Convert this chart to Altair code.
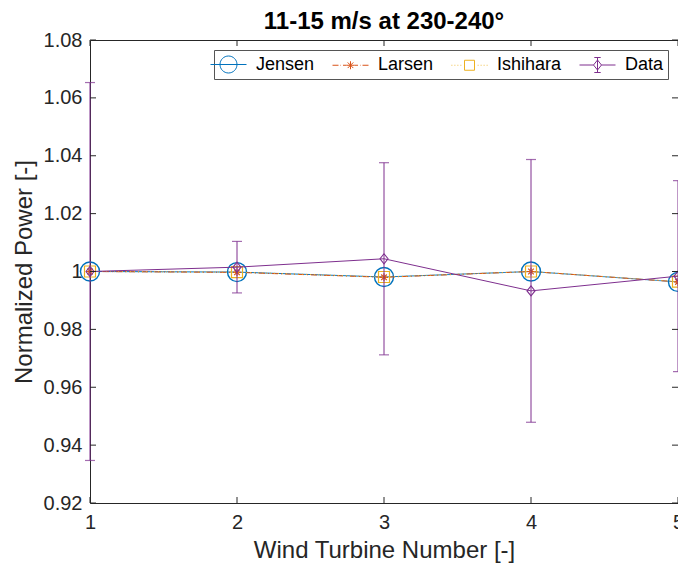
import altair as alt
import pandas as pd

# Normalized power per turbine: three wake models and measured data
turbines = [1, 2, 3, 4, 5]
jensen = [1.0000, 0.9998, 0.9981, 1.0000, 0.9964]
larsen = [1.0000, 0.9997, 0.9980, 1.0000, 0.9964]
ishihara = [1.0000, 0.9998, 0.9981, 1.0000, 0.9965]
data_mean = [1.0000, 1.0015, 1.0044, 0.9933, 0.9984]
data_std = [0.0653, 0.0089, 0.0332, 0.0454, 0.0330]

series_names = ["Jensen", "Larsen", "Ishihara", "Data"]
series_colors = ["#0072BD", "#D95319", "#EDB120", "#7E2F8E"]

x_ticks = [1, 2, 3, 4, 5]
y_ticks = [0.92, 0.94, 0.96, 0.98, 1.00, 1.02, 1.04, 1.06, 1.08]

W, H = 588, 463
FONT = "Liberation Sans"
AXIS_COLOR = "#262626"

# Marker paths (unit coordinates, scaled by sqrt(size)/2)
ASTERISK = "M-1,0H1M0,-1V1M-0.7,-0.7L0.7,0.7M-0.7,0.7L0.7,-0.7"
DIAMOND = "M-0.8,0L0,-1L0.8,0L0,1Z"

# Legend glyphs: line style + marker, drawn as one path each
LEG_JENSEN = "M-1.8,0H1.8M0.85,0A0.85,0.85 0 1,1 -0.85,0A0.85,0.85 0 1,1 0.85,0Z"
LEG_LARSEN = ("M-1.8,0H-1.2M-1.0,0H-0.95M-0.75,0H-0.4"
              "M0.4,0H0.75M0.95,0H1.0M1.2,0H1.8"
              "M-0.4,0H0.4M0,-0.4V0.4M-0.28,-0.28L0.28,0.28M-0.28,0.28L0.28,-0.28")
LEG_ISHIHARA = ("M-1.8,0H-1.72M-1.5,0H-1.42M-1.2,0H-1.12M-0.9,0H-0.82"
                "M0.82,0H0.9M1.12,0H1.2M1.42,0H1.5M1.72,0H1.8"
                "M-0.5,-0.5H0.5V0.5H-0.5Z")
LEG_DATA = ("M-1.8,0H-0.4M0.4,0H1.8M-0.4,0L0,-0.5L0.4,0L0,0.5Z"
            "M0,-0.75V0.75M-0.32,-0.75H0.32M-0.32,0.75H0.32")
legend_shapes = [LEG_JENSEN, LEG_LARSEN, LEG_ISHIHARA, LEG_DATA]

models = pd.DataFrame({
    "turbine": turbines * 3,
    "power": jensen + larsen + ishihara,
    "series": ["Jensen"] * 5 + ["Larsen"] * 5 + ["Ishihara"] * 5,
})
meas = pd.DataFrame({
    "turbine": turbines,
    "power": data_mean,
    "lo": [m - s for m, s in zip(data_mean, data_std)],
    "hi": [m + s for m, s in zip(data_mean, data_std)],
    "series": "Data",
})
legend_df = pd.concat([models, meas[["turbine", "power", "series"]]], ignore_index=True)
xt = pd.DataFrame({"t": x_ticks})
yt = pd.DataFrame({"t": y_ticks})

x_scale = alt.Scale(domain=[1, 5], nice=False, zero=False)
y_scale = alt.Scale(domain=[0.92, 1.08], nice=False, zero=False)

x_enc = alt.X(
    "turbine:Q", scale=x_scale,
    axis=alt.Axis(
        values=x_ticks, format="d", title="Wind Turbine Number [-]",
        labelFlush=False, labelPadding=9, titleY=54, titleBaseline="alphabetic",
    ),
)
y_enc = alt.Y(
    "power:Q", scale=y_scale,
    axis=alt.Axis(
        values=y_ticks, format="~g", title="Normalized Power [-]",
        labelPadding=8, titleX=-66, titleY=H / 2, titleAlign="center",
        titleBaseline="middle", titleAngle=-90,
    ),
)

base_m = alt.Chart(models)


def model_layers(name, color, dash, shape, size, width):
    src = base_m.transform_filter(alt.datum.series == name)
    line = src.mark_line(color=color, strokeWidth=1, strokeDash=dash).encode(x=x_enc, y=y_enc)
    pts = src.mark_point(
        color=color, shape=shape, size=size, filled=False, strokeWidth=width, opacity=1
    ).encode(x="turbine:Q", y="power:Q")
    return [line, pts]


layers = []
layers += model_layers("Jensen", series_colors[0], [1, 0], "circle", 361, 1.4)
layers += model_layers("Larsen", series_colors[1], [6, 3, 1, 3], ASTERISK, 64, 1.2)
layers += model_layers("Ishihara", series_colors[2], [1, 3], "square", 121, 1.2)

base_d = alt.Chart(meas)
purple = series_colors[3]
layers.append(base_d.mark_rule(color=purple, strokeWidth=1).encode(
    x="turbine:Q", y="lo:Q", y2="hi:Q"))
layers.append(base_d.mark_tick(color=purple, orient="horizontal", size=10, thickness=1.2).encode(
    x="turbine:Q", y="lo:Q"))
layers.append(base_d.mark_tick(color=purple, orient="horizontal", size=10, thickness=1.2).encode(
    x="turbine:Q", y="hi:Q"))
layers.append(base_d.mark_line(color=purple, strokeWidth=1).encode(x="turbine:Q", y="power:Q"))
layers.append(base_d.mark_point(
    color=purple, shape=DIAMOND, size=100, filled=False, strokeWidth=1.1, opacity=1
).encode(x="turbine:Q", y="power:Q"))

# Legend source: invisible points that carry the colour + glyph scales
legend_layer = alt.Chart(legend_df).mark_point(opacity=0, filled=False).encode(
    x="turbine:Q", y="power:Q",
    color=alt.Color("series:N", scale=alt.Scale(domain=series_names, range=series_colors),
                    legend=alt.Legend(title=None)),
    shape=alt.Shape("series:N", scale=alt.Scale(domain=series_names, range=legend_shapes),
                    legend=alt.Legend(title=None)),
)
layers.append(legend_layer)

# Inward tick marks on all four sides of the box
tick_style = dict(color=AXIS_COLOR, strokeWidth=1)
layers.append(alt.Chart(xt).mark_rule(**tick_style).encode(
    x=alt.X("t:Q", scale=x_scale), y=alt.value(H), y2=alt.value(H - 6)))
layers.append(alt.Chart(xt).mark_rule(**tick_style).encode(
    x=alt.X("t:Q", scale=x_scale), y=alt.value(0), y2=alt.value(6)))
layers.append(alt.Chart(yt).mark_rule(**tick_style).encode(
    y=alt.Y("t:Q", scale=y_scale), x=alt.value(0), x2=alt.value(6)))
layers.append(alt.Chart(yt).mark_rule(**tick_style).encode(
    y=alt.Y("t:Q", scale=y_scale), x=alt.value(W), x2=alt.value(W - 6)))

chart = alt.layer(*layers).properties(
    width=W, height=H,
    title=alt.TitleParams(
        "11-15 m/s at 230-240°", fontSize=24, fontWeight="bold", font=FONT,
        anchor="middle", frame="group", color="#000000", offset=10,
        baseline="alphabetic", dy=33,
    ),
    autosize=alt.AutoSizeParams(type="none"),
    padding={"left": 90, "top": 40, "right": 0, "bottom": 61},
).configure_view(
    stroke=AXIS_COLOR, strokeWidth=1,
).configure_axis(
    ticks=False, domain=False, grid=False,
    labelFont=FONT, labelFontSize=20, labelColor=AXIS_COLOR,
    titleFont=FONT, titleFontSize=24, titleFontWeight="normal", titleColor=AXIS_COLOR,
).configure_legend(
    orient="top-right", direction="horizontal", offset=10,
    labelFont=FONT, labelFontSize=18, labelColor="#000000", labelOffset=17,
    symbolSize=400, symbolStrokeWidth=1, symbolOpacity=1, symbolFillColor="transparent",
    columnPadding=15, padding=4, strokeColor="#555555", fillColor="#ffffff",
)

chart.save("out.html", embed_options={"renderer": "svg", "actions": False})
